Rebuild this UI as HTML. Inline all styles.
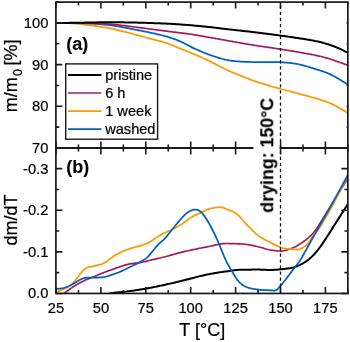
<!DOCTYPE html>
<html><head><meta charset="utf-8"><style>
html,body{margin:0;padding:0;background:#fff;width:350px;height:342px;overflow:hidden}
svg{will-change:transform}
svg text{font-family:"Liberation Sans",sans-serif;fill:#000;stroke:#000;stroke-width:0.22px}
svg text[font-weight=bold]{stroke-width:0.1px}
</style></head><body>
<svg width="350" height="342" viewBox="0 0 350 342" style="position:absolute;left:0;top:0">
<defs><clipPath id="ca"><rect x="55.90" y="2.10" width="291.95" height="145.90"/></clipPath>
<clipPath id="cb"><rect x="55.90" y="148.00" width="291.95" height="145.45"/></clipPath></defs>
<g clip-path="url(#ca)" fill="none" stroke-linejoin="round" stroke-linecap="round">
<path d="M56.00,22.90 L57.00,22.90 L58.00,22.90 L59.00,22.90 L60.00,22.91 L61.00,22.91 L62.00,22.92 L63.00,22.93 L64.00,22.95 L65.00,22.98 L66.00,23.01 L67.00,23.06 L68.00,23.10 L69.00,23.16 L70.00,23.22 L71.00,23.28 L72.00,23.35 L73.00,23.43 L74.00,23.51 L75.00,23.60 L76.00,23.69 L77.00,23.78 L78.00,23.89 L79.00,23.99 L80.00,24.10 L81.00,24.21 L82.00,24.33 L83.00,24.44 L84.00,24.56 L85.00,24.68 L86.00,24.81 L87.00,24.93 L88.00,25.05 L89.00,25.18 L90.00,25.30 L91.00,25.43 L92.00,25.56 L93.00,25.69 L94.00,25.82 L95.00,25.95 L96.00,26.09 L97.00,26.23 L98.00,26.37 L99.00,26.51 L100.00,26.66 L101.00,26.81 L102.00,26.96 L103.00,27.12 L104.00,27.28 L105.00,27.44 L106.00,27.61 L107.00,27.78 L108.00,27.96 L109.00,28.14 L110.00,28.33 L111.00,28.53 L112.00,28.73 L113.00,28.94 L114.00,29.16 L115.00,29.38 L116.00,29.61 L117.00,29.85 L118.00,30.09 L119.00,30.34 L120.00,30.59 L121.00,30.84 L122.00,31.10 L123.00,31.36 L124.00,31.62 L125.00,31.89 L126.00,32.15 L127.00,32.41 L128.00,32.68 L129.00,32.94 L130.00,33.20 L131.00,33.46 L132.00,33.73 L133.00,33.99 L134.00,34.26 L135.00,34.52 L136.00,34.79 L137.00,35.06 L138.00,35.33 L139.00,35.61 L140.00,35.88 L141.00,36.15 L142.00,36.43 L143.00,36.70 L144.00,36.97 L145.00,37.25 L146.00,37.52 L147.00,37.79 L148.00,38.05 L149.00,38.32 L150.00,38.58 L151.00,38.84 L152.00,39.10 L153.00,39.35 L154.00,39.61 L155.00,39.86 L156.00,40.11 L157.00,40.36 L158.00,40.61 L159.00,40.87 L160.00,41.14 L161.00,41.41 L162.00,41.69 L163.00,41.98 L164.00,42.28 L165.00,42.60 L166.00,42.93 L167.00,43.28 L168.00,43.63 L169.00,44.00 L170.00,44.39 L171.00,44.78 L172.00,45.18 L173.00,45.59 L174.00,46.00 L175.00,46.42 L176.00,46.83 L177.00,47.25 L178.00,47.66 L179.00,48.07 L180.00,48.48 L181.00,48.89 L182.00,49.29 L183.00,49.69 L184.00,50.09 L185.00,50.49 L186.00,50.89 L187.00,51.30 L188.00,51.70 L189.00,52.10 L190.00,52.51 L191.00,52.92 L192.00,53.33 L193.00,53.74 L194.00,54.16 L195.00,54.57 L196.00,54.99 L197.00,55.42 L198.00,55.84 L199.00,56.26 L200.00,56.69 L201.00,57.13 L202.00,57.57 L203.00,58.01 L204.00,58.46 L205.00,58.92 L206.00,59.38 L207.00,59.86 L208.00,60.34 L209.00,60.84 L210.00,61.34 L211.00,61.85 L212.00,62.37 L213.00,62.90 L214.00,63.43 L215.00,63.96 L216.00,64.49 L217.00,65.02 L218.00,65.54 L219.00,66.06 L220.00,66.57 L221.00,67.08 L222.00,67.58 L223.00,68.08 L224.00,68.57 L225.00,69.05 L226.00,69.53 L227.00,70.00 L228.00,70.46 L229.00,70.91 L230.00,71.35 L231.00,71.78 L232.00,72.20 L233.00,72.62 L234.00,73.03 L235.00,73.43 L236.00,73.83 L237.00,74.22 L238.00,74.62 L239.00,75.02 L240.00,75.42 L241.00,75.83 L242.00,76.24 L243.00,76.65 L244.00,77.06 L245.00,77.47 L246.00,77.88 L247.00,78.29 L248.00,78.68 L249.00,79.07 L250.00,79.46 L251.00,79.83 L252.00,80.20 L253.00,80.55 L254.00,80.90 L255.00,81.25 L256.00,81.59 L257.00,81.93 L258.00,82.26 L259.00,82.58 L260.00,82.90 L261.00,83.22 L262.00,83.54 L263.00,83.85 L264.00,84.16 L265.00,84.46 L266.00,84.77 L267.00,85.07 L268.00,85.36 L269.00,85.65 L270.00,85.94 L271.00,86.23 L272.00,86.51 L273.00,86.79 L274.00,87.07 L275.00,87.35 L276.00,87.62 L277.00,87.90 L278.00,88.17 L279.00,88.44 L280.00,88.70 L281.00,88.97 L282.00,89.23 L283.00,89.49 L284.00,89.75 L285.00,90.01 L286.00,90.26 L287.00,90.52 L288.00,90.77 L289.00,91.02 L290.00,91.28 L291.00,91.54 L292.00,91.79 L293.00,92.05 L294.00,92.32 L295.00,92.59 L296.00,92.86 L297.00,93.13 L298.00,93.41 L299.00,93.69 L300.00,93.97 L301.00,94.26 L302.00,94.54 L303.00,94.83 L304.00,95.11 L305.00,95.39 L306.00,95.66 L307.00,95.94 L308.00,96.21 L309.00,96.48 L310.00,96.75 L311.00,97.02 L312.00,97.29 L313.00,97.57 L314.00,97.84 L315.00,98.13 L316.00,98.41 L317.00,98.71 L318.00,99.01 L319.00,99.31 L320.00,99.62 L321.00,99.94 L322.00,100.26 L323.00,100.59 L324.00,100.93 L325.00,101.28 L326.00,101.64 L327.00,102.01 L328.00,102.40 L329.00,102.80 L330.00,103.22 L331.00,103.66 L332.00,104.12 L333.00,104.59 L334.00,105.07 L335.00,105.57 L336.00,106.09 L337.00,106.62 L338.00,107.16 L339.00,107.72 L340.00,108.29 L341.00,108.87 L342.00,109.47 L343.00,110.08 L344.00,110.71 L345.00,111.34 L346.00,111.99 L347.00,112.65 L348.00,113.31" stroke="#ff9900" stroke-width="1.75"/>
<path d="M56.00,22.90 L57.00,22.90 L58.00,22.90 L59.00,22.90 L60.00,22.90 L61.00,22.90 L62.00,22.90 L63.00,22.90 L64.00,22.90 L65.00,22.90 L66.00,22.91 L67.00,22.91 L68.00,22.91 L69.00,22.92 L70.00,22.93 L71.00,22.94 L72.00,22.96 L73.00,22.97 L74.00,22.99 L75.00,23.00 L76.00,23.02 L77.00,23.04 L78.00,23.07 L79.00,23.09 L80.00,23.12 L81.00,23.15 L82.00,23.18 L83.00,23.22 L84.00,23.25 L85.00,23.29 L86.00,23.33 L87.00,23.37 L88.00,23.41 L89.00,23.46 L90.00,23.51 L91.00,23.56 L92.00,23.62 L93.00,23.67 L94.00,23.74 L95.00,23.80 L96.00,23.87 L97.00,23.95 L98.00,24.03 L99.00,24.11 L100.00,24.19 L101.00,24.28 L102.00,24.37 L103.00,24.47 L104.00,24.57 L105.00,24.67 L106.00,24.77 L107.00,24.88 L108.00,24.99 L109.00,25.10 L110.00,25.22 L111.00,25.34 L112.00,25.47 L113.00,25.61 L114.00,25.75 L115.00,25.90 L116.00,26.06 L117.00,26.22 L118.00,26.39 L119.00,26.56 L120.00,26.73 L121.00,26.92 L122.00,27.10 L123.00,27.28 L124.00,27.47 L125.00,27.66 L126.00,27.85 L127.00,28.04 L128.00,28.22 L129.00,28.41 L130.00,28.60 L131.00,28.79 L132.00,28.98 L133.00,29.16 L134.00,29.35 L135.00,29.55 L136.00,29.74 L137.00,29.94 L138.00,30.13 L139.00,30.33 L140.00,30.53 L141.00,30.73 L142.00,30.93 L143.00,31.14 L144.00,31.34 L145.00,31.55 L146.00,31.76 L147.00,31.97 L148.00,32.18 L149.00,32.39 L150.00,32.60 L151.00,32.81 L152.00,33.02 L153.00,33.24 L154.00,33.45 L155.00,33.66 L156.00,33.88 L157.00,34.10 L158.00,34.32 L159.00,34.55 L160.00,34.78 L161.00,35.02 L162.00,35.27 L163.00,35.52 L164.00,35.79 L165.00,36.06 L166.00,36.34 L167.00,36.63 L168.00,36.92 L169.00,37.23 L170.00,37.55 L171.00,37.88 L172.00,38.21 L173.00,38.56 L174.00,38.91 L175.00,39.27 L176.00,39.65 L177.00,40.03 L178.00,40.43 L179.00,40.84 L180.00,41.26 L181.00,41.71 L182.00,42.17 L183.00,42.66 L184.00,43.16 L185.00,43.68 L186.00,44.21 L187.00,44.74 L188.00,45.28 L189.00,45.82 L190.00,46.35 L191.00,46.86 L192.00,47.37 L193.00,47.86 L194.00,48.34 L195.00,48.81 L196.00,49.27 L197.00,49.72 L198.00,50.16 L199.00,50.60 L200.00,51.03 L201.00,51.45 L202.00,51.87 L203.00,52.28 L204.00,52.69 L205.00,53.09 L206.00,53.48 L207.00,53.87 L208.00,54.24 L209.00,54.61 L210.00,54.98 L211.00,55.33 L212.00,55.68 L213.00,56.02 L214.00,56.35 L215.00,56.68 L216.00,57.00 L217.00,57.30 L218.00,57.61 L219.00,57.90 L220.00,58.19 L221.00,58.47 L222.00,58.74 L223.00,59.02 L224.00,59.28 L225.00,59.53 L226.00,59.77 L227.00,59.99 L228.00,60.19 L229.00,60.38 L230.00,60.54 L231.00,60.69 L232.00,60.82 L233.00,60.94 L234.00,61.05 L235.00,61.16 L236.00,61.25 L237.00,61.34 L238.00,61.41 L239.00,61.49 L240.00,61.56 L241.00,61.62 L242.00,61.68 L243.00,61.73 L244.00,61.78 L245.00,61.83 L246.00,61.87 L247.00,61.91 L248.00,61.94 L249.00,61.97 L250.00,61.98 L251.00,62.00 L252.00,62.01 L253.00,62.02 L254.00,62.02 L255.00,62.03 L256.00,62.03 L257.00,62.04 L258.00,62.04 L259.00,62.04 L260.00,62.04 L261.00,62.05 L262.00,62.05 L263.00,62.05 L264.00,62.05 L265.00,62.06 L266.00,62.06 L267.00,62.06 L268.00,62.06 L269.00,62.07 L270.00,62.07 L271.00,62.08 L272.00,62.08 L273.00,62.09 L274.00,62.10 L275.00,62.11 L276.00,62.13 L277.00,62.15 L278.00,62.18 L279.00,62.21 L280.00,62.25 L281.00,62.29 L282.00,62.34 L283.00,62.39 L284.00,62.45 L285.00,62.51 L286.00,62.58 L287.00,62.66 L288.00,62.75 L289.00,62.85 L290.00,62.96 L291.00,63.08 L292.00,63.21 L293.00,63.35 L294.00,63.50 L295.00,63.66 L296.00,63.83 L297.00,64.01 L298.00,64.21 L299.00,64.43 L300.00,64.65 L301.00,64.89 L302.00,65.14 L303.00,65.40 L304.00,65.66 L305.00,65.93 L306.00,66.20 L307.00,66.48 L308.00,66.76 L309.00,67.05 L310.00,67.35 L311.00,67.65 L312.00,67.96 L313.00,68.27 L314.00,68.58 L315.00,68.90 L316.00,69.21 L317.00,69.52 L318.00,69.83 L319.00,70.14 L320.00,70.45 L321.00,70.77 L322.00,71.10 L323.00,71.43 L324.00,71.77 L325.00,72.12 L326.00,72.49 L327.00,72.88 L328.00,73.29 L329.00,73.72 L330.00,74.17 L331.00,74.65 L332.00,75.15 L333.00,75.68 L334.00,76.22 L335.00,76.78 L336.00,77.35 L337.00,77.93 L338.00,78.52 L339.00,79.11 L340.00,79.71 L341.00,80.32 L342.00,80.93 L343.00,81.56 L344.00,82.19 L345.00,82.84 L346.00,83.49 L347.00,84.14 L348.00,84.81" stroke="#0060c0" stroke-width="1.75"/>
<path d="M56.00,22.90 L57.00,22.90 L58.00,22.90 L59.00,22.90 L60.00,22.90 L61.00,22.90 L62.00,22.90 L63.00,22.90 L64.00,22.90 L65.00,22.90 L66.00,22.90 L67.00,22.91 L68.00,22.91 L69.00,22.91 L70.00,22.92 L71.00,22.92 L72.00,22.93 L73.00,22.94 L74.00,22.94 L75.00,22.95 L76.00,22.96 L77.00,22.97 L78.00,22.99 L79.00,23.00 L80.00,23.01 L81.00,23.03 L82.00,23.04 L83.00,23.06 L84.00,23.08 L85.00,23.10 L86.00,23.12 L87.00,23.14 L88.00,23.16 L89.00,23.18 L90.00,23.21 L91.00,23.23 L92.00,23.26 L93.00,23.29 L94.00,23.32 L95.00,23.36 L96.00,23.39 L97.00,23.43 L98.00,23.47 L99.00,23.51 L100.00,23.56 L101.00,23.60 L102.00,23.65 L103.00,23.70 L104.00,23.75 L105.00,23.81 L106.00,23.87 L107.00,23.92 L108.00,23.99 L109.00,24.05 L110.00,24.12 L111.00,24.20 L112.00,24.28 L113.00,24.36 L114.00,24.46 L115.00,24.55 L116.00,24.66 L117.00,24.77 L118.00,24.88 L119.00,25.00 L120.00,25.12 L121.00,25.24 L122.00,25.37 L123.00,25.50 L124.00,25.63 L125.00,25.76 L126.00,25.89 L127.00,26.01 L128.00,26.14 L129.00,26.27 L130.00,26.40 L131.00,26.52 L132.00,26.65 L133.00,26.78 L134.00,26.90 L135.00,27.03 L136.00,27.16 L137.00,27.29 L138.00,27.42 L139.00,27.55 L140.00,27.68 L141.00,27.81 L142.00,27.95 L143.00,28.08 L144.00,28.21 L145.00,28.34 L146.00,28.47 L147.00,28.61 L148.00,28.74 L149.00,28.87 L150.00,29.00 L151.00,29.13 L152.00,29.26 L153.00,29.39 L154.00,29.52 L155.00,29.65 L156.00,29.78 L157.00,29.91 L158.00,30.04 L159.00,30.18 L160.00,30.31 L161.00,30.44 L162.00,30.57 L163.00,30.70 L164.00,30.83 L165.00,30.96 L166.00,31.08 L167.00,31.21 L168.00,31.34 L169.00,31.47 L170.00,31.59 L171.00,31.72 L172.00,31.84 L173.00,31.97 L174.00,32.09 L175.00,32.21 L176.00,32.33 L177.00,32.45 L178.00,32.57 L179.00,32.69 L180.00,32.81 L181.00,32.93 L182.00,33.06 L183.00,33.18 L184.00,33.31 L185.00,33.43 L186.00,33.57 L187.00,33.70 L188.00,33.83 L189.00,33.97 L190.00,34.12 L191.00,34.26 L192.00,34.41 L193.00,34.57 L194.00,34.73 L195.00,34.89 L196.00,35.05 L197.00,35.22 L198.00,35.39 L199.00,35.56 L200.00,35.73 L201.00,35.90 L202.00,36.08 L203.00,36.26 L204.00,36.43 L205.00,36.61 L206.00,36.79 L207.00,36.97 L208.00,37.15 L209.00,37.32 L210.00,37.50 L211.00,37.68 L212.00,37.86 L213.00,38.03 L214.00,38.21 L215.00,38.39 L216.00,38.57 L217.00,38.75 L218.00,38.93 L219.00,39.11 L220.00,39.29 L221.00,39.48 L222.00,39.66 L223.00,39.84 L224.00,40.02 L225.00,40.20 L226.00,40.38 L227.00,40.56 L228.00,40.74 L229.00,40.92 L230.00,41.10 L231.00,41.28 L232.00,41.46 L233.00,41.64 L234.00,41.81 L235.00,41.99 L236.00,42.17 L237.00,42.35 L238.00,42.53 L239.00,42.71 L240.00,42.88 L241.00,43.06 L242.00,43.24 L243.00,43.41 L244.00,43.58 L245.00,43.76 L246.00,43.93 L247.00,44.10 L248.00,44.26 L249.00,44.43 L250.00,44.59 L251.00,44.75 L252.00,44.91 L253.00,45.07 L254.00,45.23 L255.00,45.38 L256.00,45.53 L257.00,45.69 L258.00,45.84 L259.00,45.99 L260.00,46.13 L261.00,46.28 L262.00,46.43 L263.00,46.58 L264.00,46.72 L265.00,46.87 L266.00,47.01 L267.00,47.16 L268.00,47.30 L269.00,47.45 L270.00,47.60 L271.00,47.74 L272.00,47.89 L273.00,48.04 L274.00,48.19 L275.00,48.34 L276.00,48.49 L277.00,48.64 L278.00,48.79 L279.00,48.95 L280.00,49.11 L281.00,49.26 L282.00,49.42 L283.00,49.58 L284.00,49.74 L285.00,49.90 L286.00,50.06 L287.00,50.22 L288.00,50.39 L289.00,50.55 L290.00,50.72 L291.00,50.88 L292.00,51.05 L293.00,51.21 L294.00,51.38 L295.00,51.55 L296.00,51.72 L297.00,51.89 L298.00,52.06 L299.00,52.23 L300.00,52.40 L301.00,52.58 L302.00,52.75 L303.00,52.93 L304.00,53.11 L305.00,53.29 L306.00,53.47 L307.00,53.65 L308.00,53.83 L309.00,54.02 L310.00,54.21 L311.00,54.40 L312.00,54.59 L313.00,54.78 L314.00,54.98 L315.00,55.18 L316.00,55.39 L317.00,55.60 L318.00,55.82 L319.00,56.05 L320.00,56.28 L321.00,56.52 L322.00,56.77 L323.00,57.02 L324.00,57.29 L325.00,57.56 L326.00,57.84 L327.00,58.13 L328.00,58.43 L329.00,58.74 L330.00,59.06 L331.00,59.38 L332.00,59.71 L333.00,60.05 L334.00,60.40 L335.00,60.74 L336.00,61.09 L337.00,61.44 L338.00,61.79 L339.00,62.13 L340.00,62.48 L341.00,62.82 L342.00,63.16 L343.00,63.50 L344.00,63.84 L345.00,64.18 L346.00,64.52 L347.00,64.86 L348.00,65.20" stroke="#a51c5a" stroke-width="1.7"/>
<path d="M56.00,22.90 L57.00,22.90 L58.00,22.90 L59.00,22.90 L60.00,22.90 L61.00,22.90 L62.00,22.90 L63.00,22.90 L64.00,22.90 L65.00,22.90 L66.00,22.89 L67.00,22.89 L68.00,22.89 L69.00,22.88 L70.00,22.87 L71.00,22.86 L72.00,22.85 L73.00,22.84 L74.00,22.82 L75.00,22.81 L76.00,22.79 L77.00,22.78 L78.00,22.76 L79.00,22.74 L80.00,22.72 L81.00,22.70 L82.00,22.68 L83.00,22.65 L84.00,22.63 L85.00,22.61 L86.00,22.59 L87.00,22.56 L88.00,22.54 L89.00,22.52 L90.00,22.50 L91.00,22.49 L92.00,22.47 L93.00,22.45 L94.00,22.43 L95.00,22.42 L96.00,22.40 L97.00,22.38 L98.00,22.37 L99.00,22.35 L100.00,22.34 L101.00,22.32 L102.00,22.31 L103.00,22.30 L104.00,22.29 L105.00,22.28 L106.00,22.27 L107.00,22.27 L108.00,22.26 L109.00,22.26 L110.00,22.26 L111.00,22.26 L112.00,22.26 L113.00,22.26 L114.00,22.27 L115.00,22.27 L116.00,22.28 L117.00,22.29 L118.00,22.30 L119.00,22.31 L120.00,22.32 L121.00,22.33 L122.00,22.34 L123.00,22.35 L124.00,22.37 L125.00,22.38 L126.00,22.39 L127.00,22.41 L128.00,22.42 L129.00,22.44 L130.00,22.45 L131.00,22.47 L132.00,22.49 L133.00,22.51 L134.00,22.53 L135.00,22.55 L136.00,22.58 L137.00,22.60 L138.00,22.63 L139.00,22.66 L140.00,22.68 L141.00,22.71 L142.00,22.74 L143.00,22.77 L144.00,22.81 L145.00,22.84 L146.00,22.87 L147.00,22.90 L148.00,22.93 L149.00,22.97 L150.00,23.00 L151.00,23.03 L152.00,23.07 L153.00,23.10 L154.00,23.14 L155.00,23.17 L156.00,23.21 L157.00,23.24 L158.00,23.28 L159.00,23.32 L160.00,23.36 L161.00,23.40 L162.00,23.44 L163.00,23.48 L164.00,23.52 L165.00,23.57 L166.00,23.61 L167.00,23.66 L168.00,23.71 L169.00,23.76 L170.00,23.81 L171.00,23.86 L172.00,23.92 L173.00,23.97 L174.00,24.03 L175.00,24.10 L176.00,24.16 L177.00,24.23 L178.00,24.29 L179.00,24.36 L180.00,24.43 L181.00,24.50 L182.00,24.58 L183.00,24.65 L184.00,24.73 L185.00,24.81 L186.00,24.88 L187.00,24.96 L188.00,25.04 L189.00,25.12 L190.00,25.20 L191.00,25.29 L192.00,25.37 L193.00,25.46 L194.00,25.54 L195.00,25.63 L196.00,25.72 L197.00,25.81 L198.00,25.90 L199.00,26.00 L200.00,26.09 L201.00,26.19 L202.00,26.29 L203.00,26.38 L204.00,26.48 L205.00,26.59 L206.00,26.69 L207.00,26.79 L208.00,26.89 L209.00,27.00 L210.00,27.11 L211.00,27.22 L212.00,27.33 L213.00,27.44 L214.00,27.56 L215.00,27.67 L216.00,27.79 L217.00,27.91 L218.00,28.03 L219.00,28.16 L220.00,28.28 L221.00,28.40 L222.00,28.53 L223.00,28.65 L224.00,28.77 L225.00,28.90 L226.00,29.02 L227.00,29.14 L228.00,29.26 L229.00,29.38 L230.00,29.49 L231.00,29.61 L232.00,29.72 L233.00,29.83 L234.00,29.94 L235.00,30.05 L236.00,30.16 L237.00,30.27 L238.00,30.38 L239.00,30.49 L240.00,30.59 L241.00,30.70 L242.00,30.81 L243.00,30.92 L244.00,31.03 L245.00,31.14 L246.00,31.25 L247.00,31.36 L248.00,31.48 L249.00,31.59 L250.00,31.71 L251.00,31.82 L252.00,31.94 L253.00,32.06 L254.00,32.18 L255.00,32.30 L256.00,32.42 L257.00,32.54 L258.00,32.66 L259.00,32.78 L260.00,32.91 L261.00,33.03 L262.00,33.16 L263.00,33.28 L264.00,33.41 L265.00,33.53 L266.00,33.66 L267.00,33.79 L268.00,33.92 L269.00,34.04 L270.00,34.17 L271.00,34.30 L272.00,34.44 L273.00,34.57 L274.00,34.70 L275.00,34.83 L276.00,34.96 L277.00,35.10 L278.00,35.23 L279.00,35.37 L280.00,35.50 L281.00,35.64 L282.00,35.78 L283.00,35.92 L284.00,36.06 L285.00,36.20 L286.00,36.34 L287.00,36.48 L288.00,36.62 L289.00,36.77 L290.00,36.91 L291.00,37.06 L292.00,37.20 L293.00,37.35 L294.00,37.50 L295.00,37.65 L296.00,37.80 L297.00,37.95 L298.00,38.10 L299.00,38.25 L300.00,38.40 L301.00,38.56 L302.00,38.71 L303.00,38.86 L304.00,39.02 L305.00,39.18 L306.00,39.34 L307.00,39.51 L308.00,39.67 L309.00,39.84 L310.00,40.02 L311.00,40.20 L312.00,40.38 L313.00,40.56 L314.00,40.76 L315.00,40.95 L316.00,41.16 L317.00,41.37 L318.00,41.58 L319.00,41.81 L320.00,42.05 L321.00,42.29 L322.00,42.55 L323.00,42.81 L324.00,43.09 L325.00,43.37 L326.00,43.67 L327.00,43.97 L328.00,44.29 L329.00,44.61 L330.00,44.94 L331.00,45.28 L332.00,45.64 L333.00,46.00 L334.00,46.37 L335.00,46.76 L336.00,47.15 L337.00,47.56 L338.00,47.99 L339.00,48.42 L340.00,48.87 L341.00,49.34 L342.00,49.82 L343.00,50.32 L344.00,50.84 L345.00,51.36 L346.00,51.91 L347.00,52.46 L348.00,53.02" stroke="#000000" stroke-width="2.0"/>
</g>
<g clip-path="url(#cb)" fill="none" stroke-linejoin="round" stroke-linecap="round">
<path d="M104.00,296.00 L105.00,295.49 L106.00,295.00 L107.00,294.55 L108.00,294.14 L109.00,293.80 L110.00,293.52 L111.00,293.30 L112.00,293.13 L113.00,292.97 L114.00,292.84 L115.00,292.72 L116.00,292.62 L117.00,292.52 L118.00,292.42 L119.00,292.33 L120.00,292.25 L121.00,292.16 L122.00,292.06 L123.00,291.96 L124.00,291.86 L125.00,291.74 L126.00,291.62 L127.00,291.49 L128.00,291.36 L129.00,291.22 L130.00,291.08 L131.00,290.95 L132.00,290.80 L133.00,290.66 L134.00,290.52 L135.00,290.37 L136.00,290.22 L137.00,290.07 L138.00,289.91 L139.00,289.76 L140.00,289.60 L141.00,289.44 L142.00,289.27 L143.00,289.11 L144.00,288.94 L145.00,288.77 L146.00,288.60 L147.00,288.42 L148.00,288.24 L149.00,288.06 L150.00,287.87 L151.00,287.68 L152.00,287.49 L153.00,287.29 L154.00,287.09 L155.00,286.89 L156.00,286.69 L157.00,286.48 L158.00,286.27 L159.00,286.06 L160.00,285.85 L161.00,285.63 L162.00,285.41 L163.00,285.20 L164.00,284.98 L165.00,284.75 L166.00,284.53 L167.00,284.31 L168.00,284.08 L169.00,283.86 L170.00,283.63 L171.00,283.40 L172.00,283.17 L173.00,282.95 L174.00,282.72 L175.00,282.49 L176.00,282.26 L177.00,282.03 L178.00,281.79 L179.00,281.56 L180.00,281.31 L181.00,281.07 L182.00,280.81 L183.00,280.56 L184.00,280.30 L185.00,280.04 L186.00,279.78 L187.00,279.52 L188.00,279.25 L189.00,278.99 L190.00,278.72 L191.00,278.45 L192.00,278.19 L193.00,277.92 L194.00,277.66 L195.00,277.40 L196.00,277.14 L197.00,276.89 L198.00,276.63 L199.00,276.39 L200.00,276.14 L201.00,275.90 L202.00,275.67 L203.00,275.44 L204.00,275.22 L205.00,275.00 L206.00,274.79 L207.00,274.59 L208.00,274.39 L209.00,274.19 L210.00,274.00 L211.00,273.82 L212.00,273.63 L213.00,273.45 L214.00,273.27 L215.00,273.10 L216.00,272.92 L217.00,272.76 L218.00,272.59 L219.00,272.43 L220.00,272.27 L221.00,272.12 L222.00,271.97 L223.00,271.83 L224.00,271.68 L225.00,271.55 L226.00,271.41 L227.00,271.28 L228.00,271.14 L229.00,271.01 L230.00,270.87 L231.00,270.73 L232.00,270.60 L233.00,270.47 L234.00,270.34 L235.00,270.22 L236.00,270.11 L237.00,270.01 L238.00,269.92 L239.00,269.85 L240.00,269.79 L241.00,269.75 L242.00,269.72 L243.00,269.70 L244.00,269.68 L245.00,269.67 L246.00,269.66 L247.00,269.66 L248.00,269.65 L249.00,269.64 L250.00,269.63 L251.00,269.63 L252.00,269.62 L253.00,269.62 L254.00,269.61 L255.00,269.61 L256.00,269.61 L257.00,269.60 L258.00,269.60 L259.00,269.60 L260.00,269.61 L261.00,269.63 L262.00,269.66 L263.00,269.70 L264.00,269.75 L265.00,269.80 L266.00,269.85 L267.00,269.90 L268.00,269.94 L269.00,269.97 L270.00,269.98 L271.00,269.97 L272.00,269.95 L273.00,269.91 L274.00,269.85 L275.00,269.79 L276.00,269.72 L277.00,269.63 L278.00,269.55 L279.00,269.45 L280.00,269.36 L281.00,269.27 L282.00,269.17 L283.00,269.07 L284.00,268.96 L285.00,268.85 L286.00,268.73 L287.00,268.60 L288.00,268.46 L289.00,268.31 L290.00,268.15 L291.00,267.97 L292.00,267.77 L293.00,267.55 L294.00,267.29 L295.00,266.99 L296.00,266.63 L297.00,266.24 L298.00,265.81 L299.00,265.35 L300.00,264.88 L301.00,264.38 L302.00,263.85 L303.00,263.30 L304.00,262.71 L305.00,262.08 L306.00,261.42 L307.00,260.72 L308.00,259.98 L309.00,259.19 L310.00,258.36 L311.00,257.48 L312.00,256.55 L313.00,255.56 L314.00,254.52 L315.00,253.41 L316.00,252.26 L317.00,251.06 L318.00,249.81 L319.00,248.50 L320.00,247.15 L321.00,245.75 L322.00,244.32 L323.00,242.87 L324.00,241.39 L325.00,239.89 L326.00,238.37 L327.00,236.82 L328.00,235.27 L329.00,233.71 L330.00,232.14 L331.00,230.57 L332.00,228.99 L333.00,227.40 L334.00,225.81 L335.00,224.22 L336.00,222.63 L337.00,221.05 L338.00,219.46 L339.00,217.89 L340.00,216.31 L341.00,214.74 L342.00,213.17 L343.00,211.60 L344.00,210.04 L345.00,208.48 L346.00,206.92 L347.00,205.36 L348.00,203.80" stroke="#000000" stroke-width="2.0"/>
<path d="M59.00,298.50 L60.00,297.36 L61.00,296.27 L62.00,295.24 L63.00,294.31 L64.00,293.45 L65.00,292.66 L66.00,291.92 L67.00,291.19 L68.00,290.47 L69.00,289.75 L70.00,289.03 L71.00,288.32 L72.00,287.63 L73.00,286.96 L74.00,286.31 L75.00,285.68 L76.00,285.07 L77.00,284.48 L78.00,283.90 L79.00,283.33 L80.00,282.78 L81.00,282.23 L82.00,281.70 L83.00,281.18 L84.00,280.69 L85.00,280.22 L86.00,279.79 L87.00,279.37 L88.00,278.98 L89.00,278.59 L90.00,278.21 L91.00,277.84 L92.00,277.45 L93.00,277.07 L94.00,276.68 L95.00,276.29 L96.00,275.88 L97.00,275.46 L98.00,275.02 L99.00,274.58 L100.00,274.13 L101.00,273.69 L102.00,273.26 L103.00,272.84 L104.00,272.45 L105.00,272.07 L106.00,271.71 L107.00,271.35 L108.00,271.00 L109.00,270.66 L110.00,270.31 L111.00,269.95 L112.00,269.60 L113.00,269.24 L114.00,268.88 L115.00,268.53 L116.00,268.17 L117.00,267.82 L118.00,267.46 L119.00,267.10 L120.00,266.74 L121.00,266.38 L122.00,266.02 L123.00,265.69 L124.00,265.37 L125.00,265.08 L126.00,264.82 L127.00,264.58 L128.00,264.35 L129.00,264.14 L130.00,263.94 L131.00,263.76 L132.00,263.60 L133.00,263.45 L134.00,263.31 L135.00,263.19 L136.00,263.08 L137.00,262.97 L138.00,262.85 L139.00,262.72 L140.00,262.57 L141.00,262.41 L142.00,262.22 L143.00,262.02 L144.00,261.79 L145.00,261.56 L146.00,261.31 L147.00,261.06 L148.00,260.80 L149.00,260.55 L150.00,260.29 L151.00,260.05 L152.00,259.80 L153.00,259.57 L154.00,259.34 L155.00,259.11 L156.00,258.88 L157.00,258.66 L158.00,258.44 L159.00,258.21 L160.00,257.99 L161.00,257.76 L162.00,257.52 L163.00,257.28 L164.00,257.04 L165.00,256.79 L166.00,256.53 L167.00,256.26 L168.00,255.99 L169.00,255.71 L170.00,255.42 L171.00,255.13 L172.00,254.83 L173.00,254.54 L174.00,254.25 L175.00,253.96 L176.00,253.67 L177.00,253.39 L178.00,253.12 L179.00,252.86 L180.00,252.61 L181.00,252.36 L182.00,252.12 L183.00,251.88 L184.00,251.65 L185.00,251.42 L186.00,251.19 L187.00,250.97 L188.00,250.74 L189.00,250.52 L190.00,250.31 L191.00,250.09 L192.00,249.88 L193.00,249.67 L194.00,249.46 L195.00,249.25 L196.00,249.05 L197.00,248.84 L198.00,248.64 L199.00,248.44 L200.00,248.24 L201.00,248.04 L202.00,247.85 L203.00,247.65 L204.00,247.46 L205.00,247.26 L206.00,247.07 L207.00,246.87 L208.00,246.67 L209.00,246.46 L210.00,246.25 L211.00,246.02 L212.00,245.80 L213.00,245.56 L214.00,245.33 L215.00,245.10 L216.00,244.88 L217.00,244.66 L218.00,244.46 L219.00,244.26 L220.00,244.09 L221.00,243.93 L222.00,243.80 L223.00,243.69 L224.00,243.61 L225.00,243.55 L226.00,243.52 L227.00,243.51 L228.00,243.52 L229.00,243.53 L230.00,243.54 L231.00,243.56 L232.00,243.58 L233.00,243.61 L234.00,243.64 L235.00,243.68 L236.00,243.72 L237.00,243.76 L238.00,243.80 L239.00,243.84 L240.00,243.89 L241.00,243.94 L242.00,244.00 L243.00,244.07 L244.00,244.15 L245.00,244.26 L246.00,244.38 L247.00,244.51 L248.00,244.67 L249.00,244.84 L250.00,245.02 L251.00,245.21 L252.00,245.41 L253.00,245.62 L254.00,245.84 L255.00,246.06 L256.00,246.29 L257.00,246.52 L258.00,246.75 L259.00,246.98 L260.00,247.22 L261.00,247.48 L262.00,247.76 L263.00,248.06 L264.00,248.37 L265.00,248.69 L266.00,249.00 L267.00,249.29 L268.00,249.55 L269.00,249.78 L270.00,249.97 L271.00,250.13 L272.00,250.27 L273.00,250.41 L274.00,250.54 L275.00,250.65 L276.00,250.76 L277.00,250.85 L278.00,250.94 L279.00,251.00 L280.00,251.04 L281.00,251.05 L282.00,251.01 L283.00,250.91 L284.00,250.75 L285.00,250.52 L286.00,250.24 L287.00,249.94 L288.00,249.62 L289.00,249.29 L290.00,248.96 L291.00,248.60 L292.00,248.21 L293.00,247.80 L294.00,247.37 L295.00,246.90 L296.00,246.39 L297.00,245.84 L298.00,245.25 L299.00,244.63 L300.00,243.99 L301.00,243.33 L302.00,242.65 L303.00,241.95 L304.00,241.23 L305.00,240.49 L306.00,239.71 L307.00,238.91 L308.00,238.08 L309.00,237.21 L310.00,236.29 L311.00,235.33 L312.00,234.30 L313.00,233.20 L314.00,232.03 L315.00,230.76 L316.00,229.41 L317.00,227.97 L318.00,226.47 L319.00,224.91 L320.00,223.32 L321.00,221.72 L322.00,220.12 L323.00,218.52 L324.00,216.91 L325.00,215.28 L326.00,213.65 L327.00,212.01 L328.00,210.37 L329.00,208.72 L330.00,207.07 L331.00,205.43 L332.00,203.79 L333.00,202.16 L334.00,200.53 L335.00,198.91 L336.00,197.29 L337.00,195.67 L338.00,194.06 L339.00,192.45 L340.00,190.83 L341.00,189.22 L342.00,187.62 L343.00,186.01 L344.00,184.40 L345.00,182.80 L346.00,181.20 L347.00,179.60 L348.00,178.00" stroke="#a51c5a" stroke-width="1.7"/>
<path d="M56.00,292.40 L57.00,291.95 L58.00,291.50 L59.00,291.05 L60.00,290.61 L61.00,290.18 L62.00,289.76 L63.00,289.35 L64.00,288.92 L65.00,288.46 L66.00,287.97 L67.00,287.44 L68.00,286.86 L69.00,286.24 L70.00,285.54 L71.00,284.78 L72.00,283.93 L73.00,283.00 L74.00,281.98 L75.00,280.84 L76.00,279.59 L77.00,278.23 L78.00,276.84 L79.00,275.48 L80.00,274.18 L81.00,272.95 L82.00,271.79 L83.00,270.72 L84.00,269.77 L85.00,268.93 L86.00,268.23 L87.00,267.68 L88.00,267.30 L89.00,267.05 L90.00,266.87 L91.00,266.70 L92.00,266.52 L93.00,266.33 L94.00,266.13 L95.00,265.92 L96.00,265.69 L97.00,265.45 L98.00,265.20 L99.00,264.93 L100.00,264.64 L101.00,264.33 L102.00,263.98 L103.00,263.57 L104.00,263.09 L105.00,262.51 L106.00,261.85 L107.00,261.12 L108.00,260.35 L109.00,259.59 L110.00,258.85 L111.00,258.14 L112.00,257.45 L113.00,256.77 L114.00,256.10 L115.00,255.45 L116.00,254.82 L117.00,254.23 L118.00,253.67 L119.00,253.15 L120.00,252.66 L121.00,252.18 L122.00,251.73 L123.00,251.30 L124.00,250.89 L125.00,250.49 L126.00,250.10 L127.00,249.73 L128.00,249.38 L129.00,249.03 L130.00,248.70 L131.00,248.38 L132.00,248.06 L133.00,247.76 L134.00,247.47 L135.00,247.19 L136.00,246.92 L137.00,246.65 L138.00,246.37 L139.00,246.09 L140.00,245.79 L141.00,245.49 L142.00,245.18 L143.00,244.87 L144.00,244.53 L145.00,244.18 L146.00,243.81 L147.00,243.39 L148.00,242.93 L149.00,242.42 L150.00,241.85 L151.00,241.26 L152.00,240.64 L153.00,239.99 L154.00,239.32 L155.00,238.62 L156.00,237.90 L157.00,237.19 L158.00,236.50 L159.00,235.84 L160.00,235.24 L161.00,234.68 L162.00,234.15 L163.00,233.66 L164.00,233.18 L165.00,232.72 L166.00,232.27 L167.00,231.83 L168.00,231.38 L169.00,230.93 L170.00,230.46 L171.00,229.99 L172.00,229.50 L173.00,229.01 L174.00,228.51 L175.00,228.00 L176.00,227.49 L177.00,226.97 L178.00,226.43 L179.00,225.86 L180.00,225.27 L181.00,224.65 L182.00,223.99 L183.00,223.31 L184.00,222.62 L185.00,221.92 L186.00,221.21 L187.00,220.49 L188.00,219.76 L189.00,219.03 L190.00,218.32 L191.00,217.64 L192.00,216.99 L193.00,216.39 L194.00,215.84 L195.00,215.32 L196.00,214.84 L197.00,214.37 L198.00,213.92 L199.00,213.48 L200.00,213.04 L201.00,212.60 L202.00,212.15 L203.00,211.67 L204.00,211.19 L205.00,210.70 L206.00,210.21 L207.00,209.76 L208.00,209.35 L209.00,209.00 L210.00,208.71 L211.00,208.47 L212.00,208.26 L213.00,208.06 L214.00,207.88 L215.00,207.71 L216.00,207.57 L217.00,207.44 L218.00,207.34 L219.00,207.27 L220.00,207.25 L221.00,207.30 L222.00,207.44 L223.00,207.69 L224.00,208.02 L225.00,208.41 L226.00,208.82 L227.00,209.23 L228.00,209.63 L229.00,210.02 L230.00,210.42 L231.00,210.84 L232.00,211.28 L233.00,211.76 L234.00,212.27 L235.00,212.84 L236.00,213.47 L237.00,214.20 L238.00,215.03 L239.00,215.97 L240.00,217.00 L241.00,218.09 L242.00,219.24 L243.00,220.40 L244.00,221.56 L245.00,222.71 L246.00,223.81 L247.00,224.88 L248.00,225.91 L249.00,226.94 L250.00,227.97 L251.00,229.00 L252.00,230.02 L253.00,231.02 L254.00,231.99 L255.00,232.93 L256.00,233.81 L257.00,234.64 L258.00,235.41 L259.00,236.13 L260.00,236.79 L261.00,237.43 L262.00,238.03 L263.00,238.60 L264.00,239.16 L265.00,239.70 L266.00,240.22 L267.00,240.74 L268.00,241.26 L269.00,241.78 L270.00,242.30 L271.00,242.83 L272.00,243.35 L273.00,243.87 L274.00,244.38 L275.00,244.87 L276.00,245.34 L277.00,245.80 L278.00,246.24 L279.00,246.68 L280.00,247.11 L281.00,247.50 L282.00,247.85 L283.00,248.14 L284.00,248.36 L285.00,248.52 L286.00,248.65 L287.00,248.76 L288.00,248.85 L289.00,248.93 L290.00,249.01 L291.00,249.10 L292.00,249.18 L293.00,249.27 L294.00,249.36 L295.00,249.45 L296.00,249.51 L297.00,249.55 L298.00,249.52 L299.00,249.37 L300.00,249.09 L301.00,248.66 L302.00,248.13 L303.00,247.54 L304.00,246.90 L305.00,246.21 L306.00,245.42 L307.00,244.50 L308.00,243.42 L309.00,242.10 L310.00,240.54 L311.00,238.89 L312.00,237.33 L313.00,235.93 L314.00,234.67 L315.00,233.49 L316.00,232.33 L317.00,231.13 L318.00,229.86 L319.00,228.49 L320.00,227.01 L321.00,225.43 L322.00,223.80 L323.00,222.12 L324.00,220.42 L325.00,218.72 L326.00,217.01 L327.00,215.28 L328.00,213.54 L329.00,211.78 L330.00,210.00 L331.00,208.20 L332.00,206.37 L333.00,204.53 L334.00,202.67 L335.00,200.80 L336.00,198.91 L337.00,197.00 L338.00,195.08 L339.00,193.15 L340.00,191.20 L341.00,189.23 L342.00,187.25 L343.00,185.25 L344.00,183.23 L345.00,181.20 L346.00,179.15 L347.00,177.08 L348.00,175.00" stroke="#ff9900" stroke-width="1.75"/>
<path d="M56.00,288.90 L57.00,288.85 L58.00,288.77 L59.00,288.67 L60.00,288.55 L61.00,288.41 L62.00,288.24 L63.00,288.04 L64.00,287.79 L65.00,287.51 L66.00,287.19 L67.00,286.84 L68.00,286.45 L69.00,286.03 L70.00,285.56 L71.00,285.05 L72.00,284.52 L73.00,283.96 L74.00,283.38 L75.00,282.78 L76.00,282.14 L77.00,281.51 L78.00,280.90 L79.00,280.34 L80.00,279.81 L81.00,279.31 L82.00,278.85 L83.00,278.44 L84.00,278.11 L85.00,277.89 L86.00,277.76 L87.00,277.67 L88.00,277.60 L89.00,277.56 L90.00,277.53 L91.00,277.51 L92.00,277.52 L93.00,277.54 L94.00,277.56 L95.00,277.58 L96.00,277.59 L97.00,277.58 L98.00,277.55 L99.00,277.51 L100.00,277.45 L101.00,277.39 L102.00,277.30 L103.00,277.20 L104.00,277.07 L105.00,276.88 L106.00,276.64 L107.00,276.36 L108.00,276.05 L109.00,275.72 L110.00,275.40 L111.00,275.08 L112.00,274.76 L113.00,274.44 L114.00,274.10 L115.00,273.76 L116.00,273.40 L117.00,273.03 L118.00,272.65 L119.00,272.24 L120.00,271.82 L121.00,271.37 L122.00,270.91 L123.00,270.45 L124.00,269.97 L125.00,269.49 L126.00,269.00 L127.00,268.49 L128.00,267.97 L129.00,267.45 L130.00,266.94 L131.00,266.44 L132.00,265.96 L133.00,265.50 L134.00,265.07 L135.00,264.65 L136.00,264.21 L137.00,263.73 L138.00,263.21 L139.00,262.65 L140.00,262.08 L141.00,261.50 L142.00,260.92 L143.00,260.34 L144.00,259.75 L145.00,259.12 L146.00,258.43 L147.00,257.63 L148.00,256.68 L149.00,255.57 L150.00,254.36 L151.00,253.13 L152.00,251.92 L153.00,250.71 L154.00,249.51 L155.00,248.28 L156.00,247.04 L157.00,245.83 L158.00,244.72 L159.00,243.73 L160.00,242.85 L161.00,242.02 L162.00,241.19 L163.00,240.30 L164.00,239.33 L165.00,238.27 L166.00,237.13 L167.00,235.94 L168.00,234.72 L169.00,233.48 L170.00,232.23 L171.00,231.00 L172.00,229.77 L173.00,228.53 L174.00,227.29 L175.00,226.04 L176.00,224.80 L177.00,223.57 L178.00,222.35 L179.00,221.17 L180.00,220.01 L181.00,218.86 L182.00,217.73 L183.00,216.62 L184.00,215.56 L185.00,214.59 L186.00,213.71 L187.00,212.91 L188.00,212.18 L189.00,211.53 L190.00,210.97 L191.00,210.52 L192.00,210.15 L193.00,209.87 L194.00,209.65 L195.00,209.53 L196.00,209.55 L197.00,209.74 L198.00,210.10 L199.00,210.60 L200.00,211.23 L201.00,212.04 L202.00,213.06 L203.00,214.27 L204.00,215.60 L205.00,217.00 L206.00,218.47 L207.00,220.03 L208.00,221.68 L209.00,223.41 L210.00,225.19 L211.00,227.03 L212.00,228.92 L213.00,230.87 L214.00,232.88 L215.00,234.95 L216.00,237.07 L217.00,239.25 L218.00,241.51 L219.00,243.87 L220.00,246.32 L221.00,248.82 L222.00,251.32 L223.00,253.79 L224.00,256.18 L225.00,258.45 L226.00,260.59 L227.00,262.59 L228.00,264.49 L229.00,266.29 L230.00,268.03 L231.00,269.72 L232.00,271.38 L233.00,273.04 L234.00,274.69 L235.00,276.32 L236.00,277.90 L237.00,279.36 L238.00,280.66 L239.00,281.79 L240.00,282.79 L241.00,283.67 L242.00,284.47 L243.00,285.19 L244.00,285.82 L245.00,286.35 L246.00,286.82 L247.00,287.22 L248.00,287.57 L249.00,287.88 L250.00,288.16 L251.00,288.41 L252.00,288.63 L253.00,288.82 L254.00,289.01 L255.00,289.18 L256.00,289.33 L257.00,289.47 L258.00,289.59 L259.00,289.70 L260.00,289.79 L261.00,289.87 L262.00,289.93 L263.00,289.99 L264.00,290.05 L265.00,290.10 L266.00,290.15 L267.00,290.19 L268.00,290.24 L269.00,290.29 L270.00,290.34 L271.00,290.40 L272.00,290.46 L273.00,290.51 L274.00,290.54 L275.00,290.46 L276.00,290.18 L277.00,289.56 L278.00,288.65 L279.00,287.57 L280.00,286.44 L281.00,285.28 L282.00,284.07 L283.00,282.82 L284.00,281.54 L285.00,280.26 L286.00,278.97 L287.00,277.67 L288.00,276.36 L289.00,275.04 L290.00,273.71 L291.00,272.38 L292.00,271.05 L293.00,269.74 L294.00,268.45 L295.00,267.18 L296.00,265.92 L297.00,264.65 L298.00,263.34 L299.00,261.97 L300.00,260.52 L301.00,258.95 L302.00,257.29 L303.00,255.54 L304.00,253.75 L305.00,251.95 L306.00,250.14 L307.00,248.34 L308.00,246.53 L309.00,244.71 L310.00,242.89 L311.00,241.07 L312.00,239.27 L313.00,237.48 L314.00,235.70 L315.00,233.92 L316.00,232.14 L317.00,230.37 L318.00,228.60 L319.00,226.83 L320.00,225.07 L321.00,223.31 L322.00,221.55 L323.00,219.79 L324.00,218.04 L325.00,216.28 L326.00,214.53 L327.00,212.77 L328.00,211.00 L329.00,209.24 L330.00,207.47 L331.00,205.69 L332.00,203.91 L333.00,202.11 L334.00,200.31 L335.00,198.51 L336.00,196.70 L337.00,194.88 L338.00,193.06 L339.00,191.24 L340.00,189.41 L341.00,187.57 L342.00,185.73 L343.00,183.89 L344.00,182.04 L345.00,180.18 L346.00,178.33 L347.00,176.46 L348.00,174.60" stroke="#0060c0" stroke-width="1.75"/>
</g>
<path d="M56.00,2.10L56.00,8.60 M56.00,148.00L56.00,141.50 M56.00,148.00L56.00,154.50 M56.00,293.45L56.00,286.95 M78.45,2.10L78.45,5.50 M78.45,148.00L78.45,144.60 M78.45,148.00L78.45,151.40 M78.45,293.45L78.45,290.05 M100.90,2.10L100.90,8.60 M100.90,148.00L100.90,141.50 M100.90,148.00L100.90,154.50 M100.90,293.45L100.90,286.95 M123.35,2.10L123.35,5.50 M123.35,148.00L123.35,144.60 M123.35,148.00L123.35,151.40 M123.35,293.45L123.35,290.05 M145.80,2.10L145.80,8.60 M145.80,148.00L145.80,141.50 M145.80,148.00L145.80,154.50 M145.80,293.45L145.80,286.95 M168.25,2.10L168.25,5.50 M168.25,148.00L168.25,144.60 M168.25,148.00L168.25,151.40 M168.25,293.45L168.25,290.05 M190.70,2.10L190.70,8.60 M190.70,148.00L190.70,141.50 M190.70,148.00L190.70,154.50 M190.70,293.45L190.70,286.95 M213.15,2.10L213.15,5.50 M213.15,148.00L213.15,144.60 M213.15,148.00L213.15,151.40 M213.15,293.45L213.15,290.05 M235.60,2.10L235.60,8.60 M235.60,148.00L235.60,141.50 M235.60,148.00L235.60,154.50 M235.60,293.45L235.60,286.95 M258.05,2.10L258.05,5.50 M258.05,148.00L258.05,144.60 M258.05,148.00L258.05,151.40 M258.05,293.45L258.05,290.05 M280.50,2.10L280.50,8.60 M280.50,148.00L280.50,141.50 M280.50,148.00L280.50,154.50 M280.50,293.45L280.50,286.95 M302.95,2.10L302.95,5.50 M302.95,148.00L302.95,144.60 M302.95,148.00L302.95,151.40 M302.95,293.45L302.95,290.05 M325.40,2.10L325.40,8.60 M325.40,148.00L325.40,141.50 M325.40,148.00L325.40,154.50 M325.40,293.45L325.40,286.95 M347.85,2.10L347.85,5.50 M347.85,148.00L347.85,144.60 M347.85,148.00L347.85,151.40 M347.85,293.45L347.85,290.05 M55.90,148.00L62.40,148.00 M347.85,148.00L346.55,148.00 M55.90,127.15L59.30,127.15 M347.85,127.15L346.55,127.15 M55.90,106.30L62.40,106.30 M347.85,106.30L346.55,106.30 M55.90,85.45L59.30,85.45 M347.85,85.45L346.55,85.45 M55.90,64.60L62.40,64.60 M347.85,64.60L346.55,64.60 M55.90,43.75L59.30,43.75 M347.85,43.75L346.55,43.75 M55.90,22.90L62.40,22.90 M347.85,22.90L346.55,22.90 M55.90,2.05L59.30,2.05 M347.85,2.05L346.55,2.05 M55.90,293.45L62.40,293.45 M347.85,293.45L341.35,293.45 M55.90,272.65L59.30,272.65 M347.85,272.65L344.45,272.65 M55.90,251.85L62.40,251.85 M347.85,251.85L341.35,251.85 M55.90,231.05L59.30,231.05 M347.85,231.05L344.45,231.05 M55.90,210.25L62.40,210.25 M347.85,210.25L341.35,210.25 M55.90,189.45L59.30,189.45 M347.85,189.45L344.45,189.45 M55.90,168.65L62.40,168.65 M347.85,168.65L341.35,168.65 M55.90,147.85L59.30,147.85 M347.85,147.85L344.45,147.85" stroke="#1a1a1a" stroke-width="1.6" fill="none"/>
<rect x="55.9" y="2.1" width="291.95" height="291.35" fill="none" stroke="#1a1a1a" stroke-width="1.7"/>
<line x1="55.9" y1="148.0" x2="347.85" y2="148.0" stroke="#1a1a1a" stroke-width="1.8"/>
<rect x="253.5" y="95" width="26" height="120" fill="#fff"/>
<line x1="280.50" y1="2.1" x2="280.50" y2="293.45" stroke="#111" stroke-width="1.3" stroke-dasharray="3.3,2.74" stroke-dashoffset="2.38"/>
<rect x="65.7" y="63.9" width="91.90" height="75.30" fill="#fff" stroke="#1a1a1a" stroke-width="1.4"/>
<line x1="68.0" y1="75.0" x2="101.4" y2="75.0" stroke="#000000" stroke-width="2.0"/>
<text x="105.2" y="80.20" font-size="14.6">pristine</text>
<line x1="68.0" y1="93.0" x2="101.4" y2="93.0" stroke="#a51c5a" stroke-width="1.7"/>
<text x="105.2" y="98.20" font-size="14.6">6 h</text>
<line x1="68.0" y1="111.0" x2="101.4" y2="111.0" stroke="#ff9900" stroke-width="1.75"/>
<text x="105.2" y="116.20" font-size="14.6">1 week</text>
<line x1="68.0" y1="129.0" x2="101.4" y2="129.0" stroke="#0060c0" stroke-width="1.75"/>
<text x="105.2" y="134.20" font-size="14.6">washed</text>
<text transform="translate(48.4,27.80) scale(0.95,1)" font-size="15.5" text-anchor="end">100</text>
<text transform="translate(48.4,69.50) scale(0.95,1)" font-size="15.5" text-anchor="end">90</text>
<text transform="translate(48.4,111.20) scale(0.95,1)" font-size="15.5" text-anchor="end">80</text>
<text transform="translate(48.4,152.90) scale(0.95,1)" font-size="15.5" text-anchor="end">70</text>
<text transform="translate(48.4,173.55) scale(0.95,1)" font-size="15.5" text-anchor="end">-0.3</text>
<text transform="translate(48.4,215.15) scale(0.95,1)" font-size="15.5" text-anchor="end">-0.2</text>
<text transform="translate(48.4,256.75) scale(0.95,1)" font-size="15.5" text-anchor="end">-0.1</text>
<text transform="translate(48.4,298.35) scale(0.95,1)" font-size="15.5" text-anchor="end">0.0</text>
<text transform="translate(56.00,313.0) scale(0.95,1)" font-size="15.5" text-anchor="middle">25</text>
<text transform="translate(100.90,313.0) scale(0.95,1)" font-size="15.5" text-anchor="middle">50</text>
<text transform="translate(145.80,313.0) scale(0.95,1)" font-size="15.5" text-anchor="middle">75</text>
<text transform="translate(190.70,313.0) scale(0.95,1)" font-size="15.5" text-anchor="middle">100</text>
<text transform="translate(235.60,313.0) scale(0.95,1)" font-size="15.5" text-anchor="middle">125</text>
<text transform="translate(280.50,313.0) scale(0.95,1)" font-size="15.5" text-anchor="middle">150</text>
<text transform="translate(325.40,313.0) scale(0.95,1)" font-size="15.5" text-anchor="middle">175</text>
<text x="179.3" y="336.3" font-size="18">T [°C]</text>
<text transform="translate(17.3,75.9) rotate(-90)" font-size="18" text-anchor="middle">m/m<tspan font-size="12.5" dy="4.5" dx="1.3">0</tspan><tspan dy="-4.5" dx="-1.6"> [%]</tspan></text>
<text transform="translate(16.9,220) rotate(-90)" font-size="18" text-anchor="middle">dm/dT</text>
<text x="66.3" y="49.6" font-size="18" font-weight="bold">(a)</text>
<text x="66.3" y="173.3" font-size="18" font-weight="bold">(b)</text>
<text transform="translate(273.3,155.3) rotate(-90)" font-size="17.8" font-weight="bold" text-anchor="middle">drying: 150°C</text>
</svg>
</body></html>
